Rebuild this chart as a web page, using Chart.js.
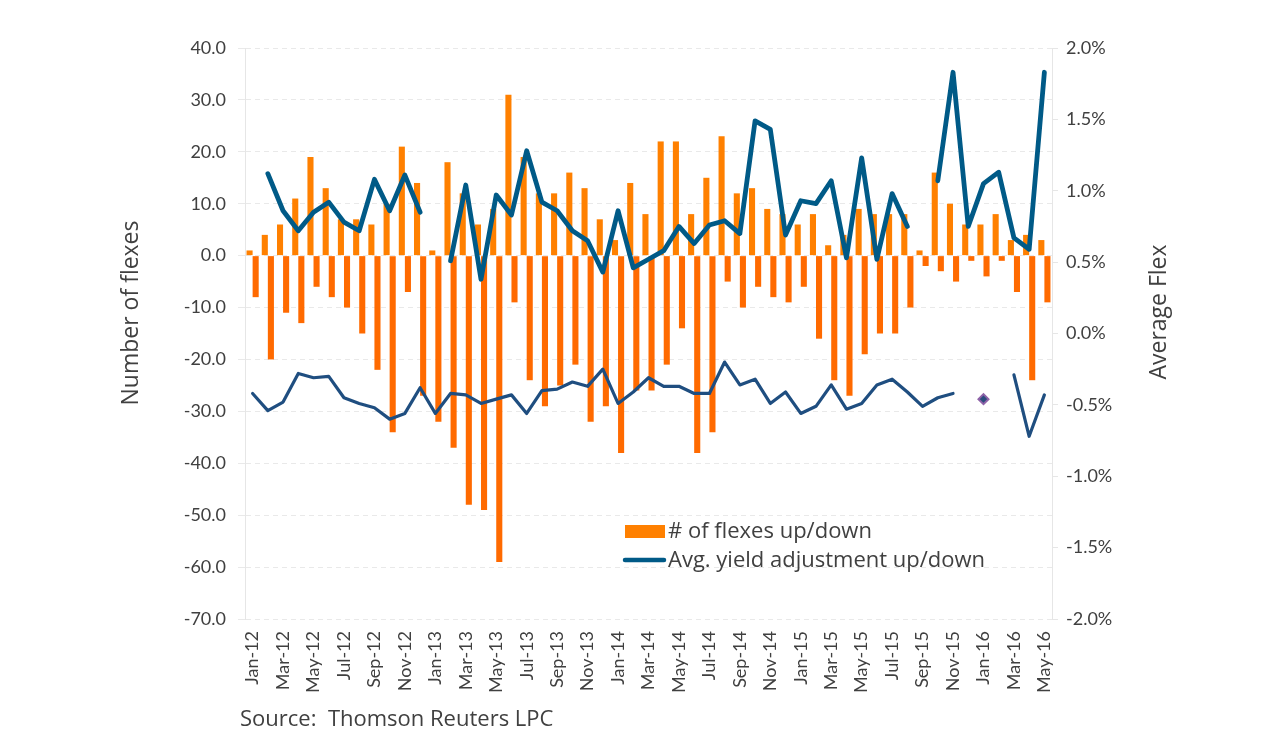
<!DOCTYPE html>
<html>
<head>
<meta charset="utf-8">
<script src="https://cdn.jsdelivr.net/npm/chart.js@4.4.1/dist/chart.umd.min.js"></script>
<style>
  body { margin: 0; background: #fff; }
  #wrap { width: 1267px; height: 751px; }
</style>
</head>
<body>
<div id="wrap"><canvas id="myChart" width="1267" height="751"></canvas></div>
<script>
// months Jan-12 .. May-16
var months = ['Jan-12','Feb-12','Mar-12','Apr-12','May-12','Jun-12','Jul-12','Aug-12','Sep-12','Oct-12','Nov-12','Dec-12',
  'Jan-13','Feb-13','Mar-13','Apr-13','May-13','Jun-13','Jul-13','Aug-13','Sep-13','Oct-13','Nov-13','Dec-13',
  'Jan-14','Feb-14','Mar-14','Apr-14','May-14','Jun-14','Jul-14','Aug-14','Sep-14','Oct-14','Nov-14','Dec-14',
  'Jan-15','Feb-15','Mar-15','Apr-15','May-15','Jun-15','Jul-15','Aug-15','Sep-15','Oct-15','Nov-15','Dec-15',
  'Jan-16','Feb-16','Mar-16','Apr-16','May-16'];

// # of flexes
var flexesUp = [1, 4, 6, 11, 19, 13, 7, 7, 6, 10, 21, 14,
  1, 18, 12, 6, 9, 31, 19, 12, 12, 16, 13, 7,
  3, 14, 8, 22, 22, 8, 15, 23, 12, 13, 9, 8,
  6, 8, 2, 4, 9, 8, 8, 8, 1, 16, 10, 6,
  6, 8, 3, 4, 3];
var flexesDown = [-8, -20, -11, -13, -6, -8, -10, -15, -22, -34, -7, -27,
  -32, -37, -48, -49, -59, -9, -24, -29, -25, -21, -32, -29,
  -38, -26, -26, -21, -14, -38, -34, -5, -10, -6, -8, -9,
  -6, -16, -24, -27, -19, -15, -15, -10, -2, -3, -5, -1,
  -4, -1, -7, -24, -9];

// avg yield adjustment, %
var yieldUp = [null, 1.12, 0.86, 0.72, 0.85, 0.92, 0.78, 0.72, 1.08, 0.86, 1.11, 0.85,
  null, 0.51, 1.04, 0.38, 0.97, 0.83, 1.28, 0.92, 0.86, 0.72, 0.65, 0.43,
  0.86, 0.46, 0.52, 0.58, 0.75, 0.63, 0.76, 0.79, 0.70, 1.49, 1.43, 0.69,
  0.93, 0.91, 1.07, 0.53, 1.23, 0.52, 0.98, 0.75, null, 1.07, 1.83, 0.75,
  1.05, 1.13, 0.67, 0.59, 1.83];
var yieldDown = [-0.42, -0.54, -0.48, -0.28, -0.31, -0.30, -0.45, -0.49, -0.52, -0.60, -0.56, -0.38,
  -0.56, -0.42, -0.43, -0.49, -0.46, -0.43, -0.56, -0.40, -0.39, -0.34, -0.37, -0.25,
  -0.49, -0.41, -0.31, -0.37, -0.37, -0.42, -0.42, -0.20, -0.36, -0.32, -0.49, -0.41,
  -0.56, -0.51, -0.36, -0.53, -0.49, -0.36, -0.32, -0.41, -0.51, -0.45, -0.42, null,
  -0.46, null, -0.29, -0.72, -0.43];

var leftTicks = { min: -70, max: 40, step: 10 };
var rightTicks = { min: -2.0, max: 2.0, step: 0.5 };

var textColor = '#404040';
var fontName = 'Lato';
var wideFont = '"Open Sans"';

// single points with no neighbours get a marker (like the Jan-16 point)
function lonePoint(ctx) {
  var d = ctx.dataset.data, i = ctx.dataIndex;
  if (d[i] == null) return 0;
  return (d[i - 1] == null && d[i + 1] == null) ? 5 : 0;
}

var extras = {
  id: 'extras',
  afterDraw: function(chart) {
    var ctx = chart.ctx;
    ctx.save();
    ctx.fillStyle = textColor;
    ctx.textAlign = 'center';
    ctx.textBaseline = 'middle';
    ctx.font = '23px ' + wideFont;
    ctx.save();
    ctx.translate(131, 313);
    ctx.rotate(-Math.PI / 2);
    ctx.fillText('Number of flexes', 0, 0);
    ctx.restore();
    ctx.save();
    ctx.translate(1159, 312);
    ctx.rotate(-Math.PI / 2);
    ctx.fillText('Average Flex', 0, 0);
    ctx.restore();

    // legend
    ctx.textAlign = 'left';
    ctx.font = '22px ' + wideFont;
    ctx.fillStyle = '#FF8000';
    ctx.fillRect(625, 525, 40, 13);
    ctx.fillStyle = textColor;
    ctx.fillText('# of flexes up/down', 668, 532);
    ctx.strokeStyle = '#005A87';
    ctx.lineWidth = 4.5;
    ctx.lineCap = 'round';
    ctx.beginPath();
    ctx.moveTo(625, 560);
    ctx.lineTo(664, 560);
    ctx.stroke();
    ctx.fillText('Avg. yield adjustment up/down', 668, 561);

    // source
    ctx.font = '22px ' + wideFont;
    ctx.fillText('Source:  Thomson Reuters LPC', 240, 720);
    ctx.restore();
  }
};

function createChart() {
  var ctx = document.getElementById('myChart').getContext('2d');
  new Chart(ctx, {
    type: 'bar',
    data: {
      labels: months,
      datasets: [
        { label: '# of flexes up', data: flexesUp, backgroundColor: '#FF8000', yAxisID: 'y', order: 2,
          categoryPercentage: 0.8, barPercentage: 1.0 },
        { label: '# of flexes down', data: flexesDown, backgroundColor: '#FF6A00', yAxisID: 'y', order: 2,
          categoryPercentage: 0.8, barPercentage: 1.0 },
        { type: 'line', label: 'Avg. yield adjustment up', data: yieldUp, yAxisID: 'y2', order: 0,
          borderColor: '#005A87', borderWidth: 4.8, tension: 0, spanGaps: false,
          pointRadius: lonePoint, pointStyle: 'rectRot', borderCapStyle: 'round', borderJoinStyle: 'round' },
        { type: 'line', label: 'Avg. yield adjustment down', data: yieldDown, yAxisID: 'y2', order: 1,
          borderColor: '#1F4E80', borderWidth: 3.2, tension: 0, spanGaps: false,
          pointRadius: lonePoint, pointStyle: 'rectRot', pointBackgroundColor: '#2B4C7E',
          pointBorderColor: '#8E63A8', pointBorderWidth: 2, borderCapStyle: 'round', borderJoinStyle: 'round' }
      ]
    },
    options: {
      responsive: false,
      animation: false,
      layout: { padding: { top: 48, left: 0, right: 0, bottom: 0 } },
      plugins: { legend: { display: false }, tooltip: { enabled: false } },
      scales: {
        x: {
          grid: { display: false, drawTicks: false },
          border: { display: false },
          ticks: {
            autoSkip: false, minRotation: 90, maxRotation: 90, padding: 12,
            color: textColor, font: { family: fontName, size: 18 },
            callback: function(v, i) { return i % 2 === 0 ? months[i] : ''; }
          },
          afterFit: function(s) { s.height = 132; }
        },
        y: {
          position: 'left',
          min: leftTicks.min, max: leftTicks.max,
          grid: { color: '#e9e9e9', tickLength: 7 },
          border: { display: true, color: '#e6e6e6', dash: [5, 4] },
          ticks: {
            stepSize: leftTicks.step, padding: 12, color: textColor,
            font: { family: fontName, size: 18 },
            callback: function(v) { return v.toFixed(1); }
          },
          afterFit: function(s) { s.width = 245; }
        },
        y2: {
          position: 'right',
          min: rightTicks.min, max: rightTicks.max,
          grid: { drawOnChartArea: false, color: '#e6e6e6', tickLength: 6 },
          border: { display: true, color: '#e6e6e6' },
          ticks: {
            stepSize: rightTicks.step, padding: 8, color: textColor,
            font: { family: fontName, size: 18 },
            callback: function(v) { return v.toFixed(1) + '%'; }
          },
          afterFit: function(s) { s.width = 215; }
        }
      }
    },
    plugins: [extras]
  });
}

createChart();
</script>
</body>
</html>
